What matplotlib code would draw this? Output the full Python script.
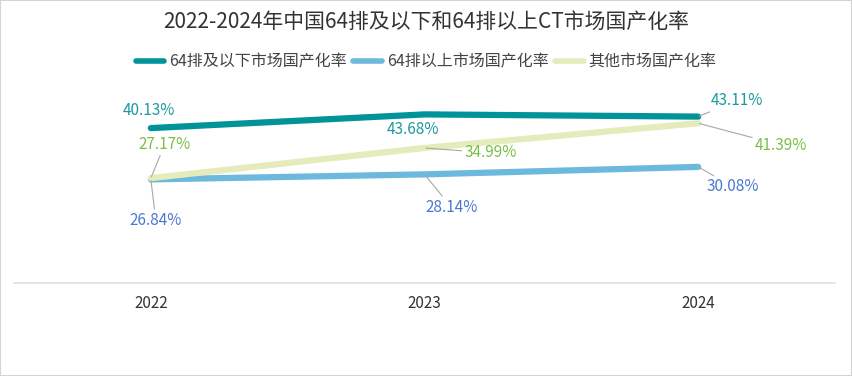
import matplotlib
matplotlib.use('Agg')
import matplotlib.pyplot as plt
from matplotlib.patches import Rectangle

plt.rcParams['font.family'] = ['Noto Sans CJK SC', 'DejaVu Sans']

years = ['2022', '2023', '2024']
below64 = [40.13, 43.68, 43.11]
above64 = [26.84, 28.14, 30.08]
other = [27.17, 34.99, 41.39]
names = ['64排及以下市场国产化率', '64排以上市场国产化率', '其他市场国产化率']
line_colors = ['#00939a', '#6cb9dd', '#e5ebba']
label_colors = ['#1b9aa1', '#4a78d2', '#7bbf45']

# label offsets in pixels (dx, dy) and whether a leader line is drawn
offsets = {
    0: [(-2, 18, False), (-11, -15, False), (39, 16, True)],
    1: [(5, -41, True), (27, -33, True), (35, -20, True)],
    2: [(14, 34, True), (66, -5, True), (83, -22, True)],
}

fig = plt.figure(figsize=(8.52, 3.76), dpi=100)
ax = fig.add_axes([14 / 852, 1 - 283 / 376, 821 / 852, 193 / 376])

x = list(range(len(years)))
series = [below64, above64, other]
for i, vals in enumerate(series):
    ax.plot(x, vals, color=line_colors[i], lw=4.5, solid_capstyle='round',
            label=names[i], zorder=2 + i)

for i, vals in enumerate(series):
    for j, v in enumerate(vals):
        dx, dy, lead = offsets[i][j]
        ap = None
        if lead:
            ap = dict(arrowstyle='-', color='#a8a8a8', lw=0.8, shrinkA=0, shrinkB=1)
        ax.annotate('%.2f%%' % v, xy=(j, v), xytext=(dx, dy), textcoords='offset pixels',
                    ha='center', va='center', fontsize=11, color=label_colors[i],
                    fontweight='light', arrowprops=ap, zorder=10)

ax.set_xlim(-0.5, 2.5)
ax.set_ylim(0, 50)
ax.set_xticks(x)
ax.set_xticklabels(years, fontsize=11, color='#333333', fontweight='light')
ax.set_yticks([])
ax.tick_params(axis='x', length=0, pad=9)
for s in ['top', 'right', 'left']:
    ax.spines[s].set_visible(False)
ax.spines['bottom'].set_color('#e0e0e0')
ax.spines['bottom'].set_linewidth(1.2)

fig.text(0.5, 1 - 22 / 376, '2022-2024年中国64排及以下和64排以上CT市场国产化率',
         ha='center', va='center', fontsize=15, color='#333333', fontweight='medium')

leg = fig.legend(loc='center', bbox_to_anchor=(0.5, 1 - 62 / 376), ncol=3, frameon=False,
                 fontsize=11.5, handlelength=1.8, handletextpad=0.3, columnspacing=0.4,
                 labelcolor='#444444', prop={'weight': 'light', 'size': 11.5})
for h in leg.get_lines():
    h.set_linewidth(4)

fig.patches.append(Rectangle((0, 0), 1, 1, transform=fig.transFigure, fill=False,
                             edgecolor='#d4d4d4', lw=1.5))

fig.savefig('out.png', dpi=100)
